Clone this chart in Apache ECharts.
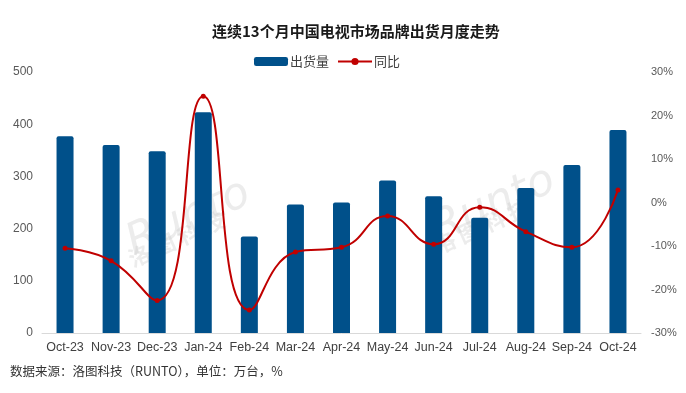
<!DOCTYPE html>
<html><head><meta charset="utf-8">
<script src="https://cdn.jsdelivr.net/npm/echarts@6/dist/echarts.min.js"></script>
<style>html,body{margin:0;padding:0;background:#fff}#c{width:686px;height:393px}</style>
</head><body><div id="c"></div>
<script>
var categories = ['Oct-23','Nov-23','Dec-23','Jan-24','Feb-24','Mar-24','Apr-24','May-24','Jun-24','Jul-24','Aug-24','Sep-24','Oct-24'];
var shipments = [377, 360, 348, 423, 185, 246, 250, 292, 262, 221, 278, 322, 389];
var yoy = [-10.5, -13.4, -22.5, 24.4, -24.7, -11.4, -10.3, -3.1, -9.6, -1.1, -6.7, -10.3, 2.9];
var leftTicks = [0, 100, 200, 300, 400, 500];
var rightTicks = [-30, -20, -10, 0, 10, 20, 30];

var font = '"Noto Sans CJK SC", "Noto Sans", sans-serif';
var latin = '"Liberation Sans", Arial, sans-serif';
var chart = echarts.init(document.getElementById('c'));
chart.setOption({
  backgroundColor: '#fff',
  textStyle: {fontFamily: font},
  title: {
    text: '连续13个月中国电视市场品牌出货月度走势',
    left: 207, top: 19,
    textStyle: {fontSize: 15, fontWeight: 'bold', color: '#1a1a1a', fontFamily: font}
  },
  legend: {
    top: 50, left: 249, itemGap: 8, itemWidth: 34, itemHeight: 9,
    textStyle: {fontSize: 13, color: '#404040', fontFamily: font, padding: [0, 0, 0, -3]},
    data: [{name: '出货量', icon: 'roundRect'}, {name: '同比'}]
  },
  graphic: [
    {type: 'text', left: 10, top: 365, style: {text: '数据来源：洛图科技（RUNTO），单位：万台，%', font: '12.5px ' + font, fill: '#333'}},
    {type: 'text', x: 120, y: 225, rotation: 0.42, z: -1, style: {text: 'Runto', font: 'italic 44px "DejaVu Sans"', fill: 'rgba(200,200,200,0.35)'}},
    {type: 'text', x: 125, y: 250, rotation: 0.42, z: -1, style: {text: '洛 图 科 技', font: 'bold 22px ' + font, fill: 'rgba(200,200,200,0.35)'}},
    {type: 'text', x: 425, y: 212, rotation: 0.42, z: -1, style: {text: 'Runto', font: 'italic 44px "DejaVu Sans"', fill: 'rgba(200,200,200,0.35)'}},
    {type: 'text', x: 430, y: 237, rotation: 0.42, z: -1, style: {text: '洛 图 科 技', font: 'bold 22px ' + font, fill: 'rgba(200,200,200,0.35)'}}
  ],
  grid: {left: 42, right: 45, top: 72, bottom: 60},
  xAxis: {
    type: 'category', data: categories,
    axisLine: {lineStyle: {color: '#d9d9d9'}},
    axisTick: {show: false},
    axisLabel: {color: '#404040', fontSize: 12.5, margin: 8, interval: 0, fontFamily: latin}
  },
  yAxis: [
    {type: 'value', min: leftTicks[0], max: leftTicks[leftTicks.length-1], interval: 100,
     splitLine: {show: false}, axisLine: {show: false}, axisTick: {show: false},
     axisLabel: {color: '#595959', fontSize: 12, margin: 9, fontFamily: latin}},
    {type: 'value', min: rightTicks[0], max: rightTicks[rightTicks.length-1], interval: 10,
     splitLine: {show: false}, axisLine: {show: false}, axisTick: {show: false},
     axisLabel: {color: '#595959', fontSize: 11, margin: 10, formatter: '{value}%', fontFamily: latin}}
  ],
  series: [
    {name: '出货量', type: 'bar', data: shipments, barWidth: 17,
     itemStyle: {color: '#00508A', borderRadius: [2, 2, 0, 0]}},
    {name: '同比', type: 'line', yAxisIndex: 1, data: yoy, smooth: true,
     symbol: 'circle', symbolSize: 5,
     lineStyle: {color: '#C00000', width: 2},
     itemStyle: {color: '#C00000'}}
  ]
});
</script></body></html>
